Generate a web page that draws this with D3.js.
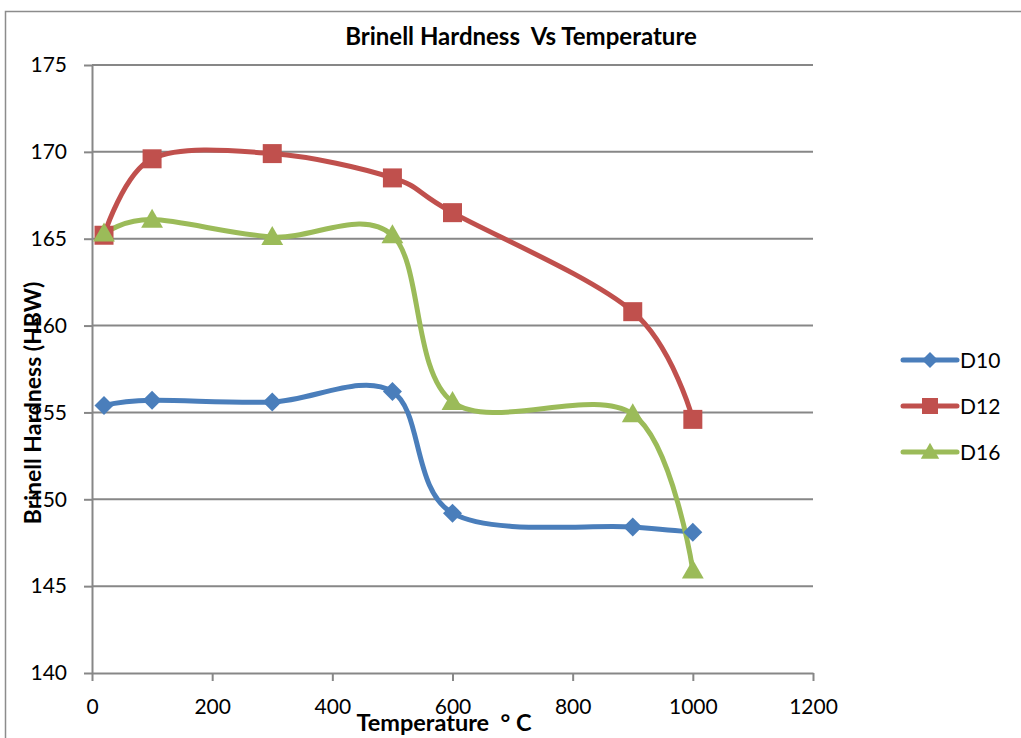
<!DOCTYPE html>
<html>
<head>
<meta charset="utf-8">
<script src="https://cdn.jsdelivr.net/npm/d3@7"></script>
<style>
	body { margin: 0; background: #fff; }
	svg { display: block; }
	text { font-family: Lato, "Open Sans", sans-serif; fill: #000; white-space: pre; }
</style>
</head>
<body>
<svg id="chart" width="1021" height="738"></svg>
<script>
// data
const temps = [20, 100, 300, 500, 600, 900, 1000];
const d10 = [155.4, 155.7, 155.6, 156.2, 149.2, 148.4, 148.1];
const d12 = [165.2, 169.6, 169.9, 168.5, 166.5, 160.8, 154.6];
const d16 = [165.3, 166.1, 165.1, 165.2, 155.6, 154.9, 145.9];
const seriesNames = ["D10", "D12", "D16"];
const xTicks = [0, 200, 400, 600, 800, 1000, 1200];
const yTicks = [140, 145, 150, 155, 160, 165, 170, 175];

const colors = { D10: "#4a7ebb", D12: "#c0504d", D16: "#9bbb59" };
const series = [
	{ key: seriesNames[0], values: d10, shape: "diamond" },
	{ key: seriesNames[1], values: d12, shape: "square" },
	{ key: seriesNames[2], values: d16, shape: "triangle" }
];

let svg = d3.select("#chart");
let plotLeft = 92, plotRight = 813, plotTop = 65, plotBottom = 673;

let x = d3.scaleLinear().domain([0, 1200]).range([plotLeft, plotRight]);
let y = d3.scaleLinear().domain([140, 175]).range([plotBottom, plotTop]);

// outer chart frame
svg.append("rect")
	.attr("x", 5.5).attr("y", 11.5)
	.attr("width", 1040).attr("height", 760)
	.attr("fill", "none").attr("stroke", "#8c8c8c").attr("stroke-width", 1.5);

// gridlines
svg.append("g")
	.selectAll("line")
	.data(yTicks.filter(function(d) { return d > 140; }))
	.enter().append("line")
	.attr("x1", plotLeft).attr("x2", plotRight)
	.attr("y1", function(d) { return y(d); })
	.attr("y2", function(d) { return y(d); })
	.attr("stroke", "#878787").attr("stroke-width", 2);

// axes
let xAxis = svg.append("g")
	.attr("transform", "translate(0," + plotBottom + ")")
	.call(d3.axisBottom(x).tickValues(xTicks).tickFormat(d3.format("d"))
		.tickSize(8).tickPadding(18).tickSizeOuter(0));
let yAxis = svg.append("g")
	.attr("transform", "translate(" + plotLeft + ",0)")
	.call(d3.axisLeft(y).tickValues(yTicks).tickFormat(d3.format("d"))
		.tickSize(8).tickPadding(17).tickSizeOuter(0));

[xAxis, yAxis].forEach(function(a) {
	a.select(".domain").attr("stroke", "#878787").attr("stroke-width", 2);
	a.selectAll(".tick line").attr("stroke", "#878787").attr("stroke-width", 2);
	a.selectAll(".tick text")
		.style("font-family", "Lato, sans-serif")
		.style("font-size", "21px")
		.attr("fill", "#000");
});

// lines
let line = d3.line()
	.x(function(d) { return x(d.t); })
	.y(function(d) { return y(d.v); })
	.curve(d3.curveCatmullRom.alpha(0));

function points(s) {
	return temps.map(function(t, i) { return { t: t, v: s.values[i] }; });
}

function markerPath(shape, r) {
	if (shape === "diamond") return "M0," + (-r) + "L" + r + ",0L0," + r + "L" + (-r) + ",0Z";
	if (shape === "square") return "M" + (-r) + "," + (-r) + "H" + r + "V" + r + "H" + (-r) + "Z";
	return "M0," + (-r * 1.15) + "L" + (r * 1.15) + "," + (r * 0.85) + "L" + (-r * 1.15) + "," + (r * 0.85) + "Z";
}

series.forEach(function(s) {
	svg.append("path")
		.datum(points(s))
		.attr("d", line)
		.attr("fill", "none")
		.attr("stroke", colors[s.key])
		.attr("stroke-width", 5)
		.attr("stroke-linecap", "round")
		.attr("stroke-linejoin", "round");
});

series.forEach(function(s) {
	svg.append("g")
		.selectAll("path")
		.data(points(s))
		.enter().append("path")
		.attr("transform", function(d) { return "translate(" + x(d.t) + "," + y(d.v) + ")"; })
		.attr("d", markerPath(s.shape, 9.5))
		.attr("fill", colors[s.key]);
});

// legend
let legend = svg.append("g").attr("transform", "translate(903,360)");
let items = legend.selectAll("g")
	.data(series)
	.enter().append("g")
	.attr("transform", function(d, i) { return "translate(0," + (i * 46) + ")"; });

items.append("line")
	.attr("x1", 0).attr("x2", 54)
	.attr("stroke", function(d) { return colors[d.key]; })
	.attr("stroke-width", 5)
	.attr("stroke-linecap", "round");
items.append("path")
	.attr("transform", "translate(27,0)")
	.attr("d", function(d) { return markerPath(d.shape, 8); })
	.attr("fill", function(d) { return colors[d.key]; });
items.append("text")
	.attr("x", 57).attr("y", 7.5)
	.style("font-size", "21px")
	.text(function(d) { return d.key; });

// titles
svg.append("text")
	.attr("x", 521).attr("y", 45)
	.attr("text-anchor", "middle")
	.style("font-size", "24px").style("font-weight", "bold")
	.text("Brinell Hardness  Vs Temperature");

svg.append("text")
	.attr("x", 444).attr("y", 731)
	.attr("text-anchor", "middle")
	.style("font-size", "23.5px").style("font-weight", "bold")
	.text("Temperature  \u00b0 C");

svg.append("text")
	.attr("transform", "translate(41,403) rotate(-90)")
	.attr("text-anchor", "middle")
	.style("font-size", "23px").style("font-weight", "bold")
	.text("Brinell Hardness (HBW)");
</script>
</body>
</html>
